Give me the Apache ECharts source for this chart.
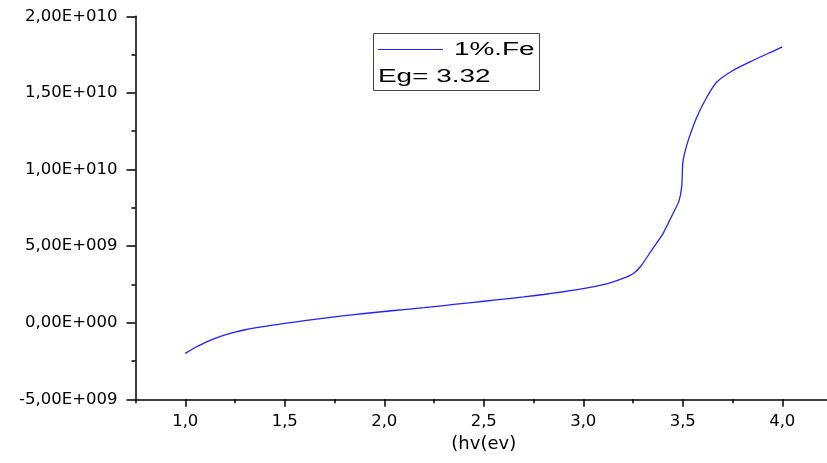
<!DOCTYPE html>
<html>
<head>
<meta charset="utf-8">
<script src="https://cdn.jsdelivr.net/npm/echarts@6/dist/echarts.min.js"></script>
<style>
  html, body { margin: 0; padding: 0; background: #fff; }
  #chart { width: 827px; height: 463px; }
</style>
</head>
<body>
<div id="chart"></div>
<script>
// Photon energy hv (eV)
const hv = [1.00, 1.05, 1.10, 1.15, 1.20, 1.25, 1.30, 1.35, 1.40, 1.50, 1.60, 1.70, 1.80, 1.90,
  2.00, 2.10, 2.20, 2.30, 2.40, 2.50, 2.60, 2.70, 2.80, 2.90, 3.00, 3.10, 3.20,
  3.25, 3.29, 3.35, 3.40, 3.45, 3.48, 3.495, 3.50, 3.51, 3.53, 3.57, 3.62, 3.67,
  3.75, 3.85, 3.95, 4.00];
// Measured response for the 1% Fe sample
const signal = [-2.00e9, -1.62e9, -1.30e9, -1.02e9, -0.80e9, -0.61e9, -0.46e9, -0.34e9, -0.24e9, -0.05e9,
  0.13e9, 0.30e9, 0.46e9, 0.60e9, 0.73e9, 0.86e9, 0.98e9, 1.12e9, 1.26e9, 1.40e9,
  1.54e9, 1.68e9, 1.84e9, 2.02e9, 2.22e9, 2.48e9, 2.90e9, 3.20e9, 3.70e9, 4.85e9,
  5.80e9, 7.10e9, 7.90e9, 8.90e9, 10.4e9, 11.1e9, 12.0e9, 13.4e9, 14.7e9, 15.7e9,
  16.45e9, 17.1e9, 17.7e9, 18.0e9];
const seriesName = '1%.Fe';
const gapNote = 'Eg= 3.32';
const xTitle = '(hv(ev)';
const xMajorTicks = [1.0, 1.5, 2.0, 2.5, 3.0, 3.5, 4.0];

const GRID = { left: 135.5, right: -5, top: 16.3, bottom: 63.7 };
const PLOT_H = 463 - GRID.top - GRID.bottom;

function fmtX(v) {
  const r = Math.round(v * 100) / 100;
  if (r < 1 || r > 4 || Math.abs(r * 2 - Math.round(r * 2)) > 1e-6) return '';
  return r.toFixed(1).replace('.', ',');
}
function fmtY(v) {
  if (v === 0) return '0,00E+000';
  const sign = v < 0 ? '-' : '';
  const a = Math.abs(v);
  let e = Math.floor(Math.log10(a));
  let m = a / Math.pow(10, e);
  if (m >= 9.995) { m /= 10; e += 1; }
  return sign + m.toFixed(2).replace('.', ',') + 'E+' + String(e).padStart(3, '0');
}

const chart = echarts.init(document.getElementById('chart'), null, { renderer: 'canvas' });
const axisFont = { color: '#000', fontFamily: 'DejaVu Sans', fontSize: 16.5 };
const black = () => ({ color: '#000', width: 1.5 });

chart.setOption({
  animation: false,
  backgroundColor: '#fff',
  grid: { left: GRID.left, right: GRID.right, top: GRID.top, bottom: GRID.bottom,
    containLabel: false, outerBoundsMode: 'none' },
  xAxis: [{
    // bottom axis: short ticks every 0.25, labels every 0.5
    type: 'value', min: 0.75, max: 4.25, interval: 0.25, position: 'bottom',
    axisLine: { show: true, onZero: false, lineStyle: black() },
    axisTick: { show: true, inside: false, length: 4, lineStyle: black() },
    axisLabel: { show: true, margin: 14, formatter: fmtX, ...axisFont },
    splitLine: { show: false },
    name: xTitle, nameLocation: 'middle', nameGap: 30,
    nameTextStyle: { color: '#000', fontFamily: 'DejaVu Sans', fontSize: 18 }
  }, {
    // longer ticks at the labelled values, laid over the bottom axis line
    type: 'value', min: 0.75, max: 4.25, position: 'top', offset: -PLOT_H,
    axisLine: { show: false, onZero: false },
    axisTick: { show: true, inside: true, length: 7.5, customValues: xMajorTicks, lineStyle: black() },
    axisLabel: { show: false },
    splitLine: { show: false }
  }],
  yAxis: {
    type: 'value', min: -5e9, max: 2e10, interval: 5e9,
    axisLine: { show: true, onZero: false, lineStyle: black() },
    axisTick: { show: true, inside: false, length: 9, lineStyle: black() },
    minorTick: { show: true, splitNumber: 2, length: 4, lineStyle: black() },
    axisLabel: { show: true, margin: 18, formatter: fmtY, ...axisFont },
    splitLine: { show: false }
  },
  series: [{
    name: seriesName,
    type: 'line',
    data: hv.map((x, i) => [x, signal[i]]),
    showSymbol: false,
    smooth: 0.2,
    lineStyle: { color: '#2222ff', width: 1.3 },
    itemStyle: { color: '#2222ff' }
  }],
  graphic: [{
    type: 'group',
    children: [
      { type: 'rect', shape: { x: 373.5, y: 33.5, width: 166, height: 57 },
        style: { fill: '#fff', stroke: '#444', lineWidth: 1 } },
      { type: 'line', shape: { x1: 378, y1: 49.5, x2: 443, y2: 49.5 },
        style: { stroke: '#2222ff', lineWidth: 1.2 } },
      { type: 'text', x: 454, y: 50, scaleX: 1.55,
        style: { text: seriesName, fill: '#000', font: '18px "Liberation Sans", Arial, sans-serif',
          textAlign: 'left', textVerticalAlign: 'middle' } },
      { type: 'text', x: 378, y: 77, scaleX: 1.55,
        style: { text: gapNote, fill: '#000', font: '18px "Liberation Sans", Arial, sans-serif',
          textAlign: 'left', textVerticalAlign: 'middle' } }
    ]
  }]
});
</script>
</body>
</html>
